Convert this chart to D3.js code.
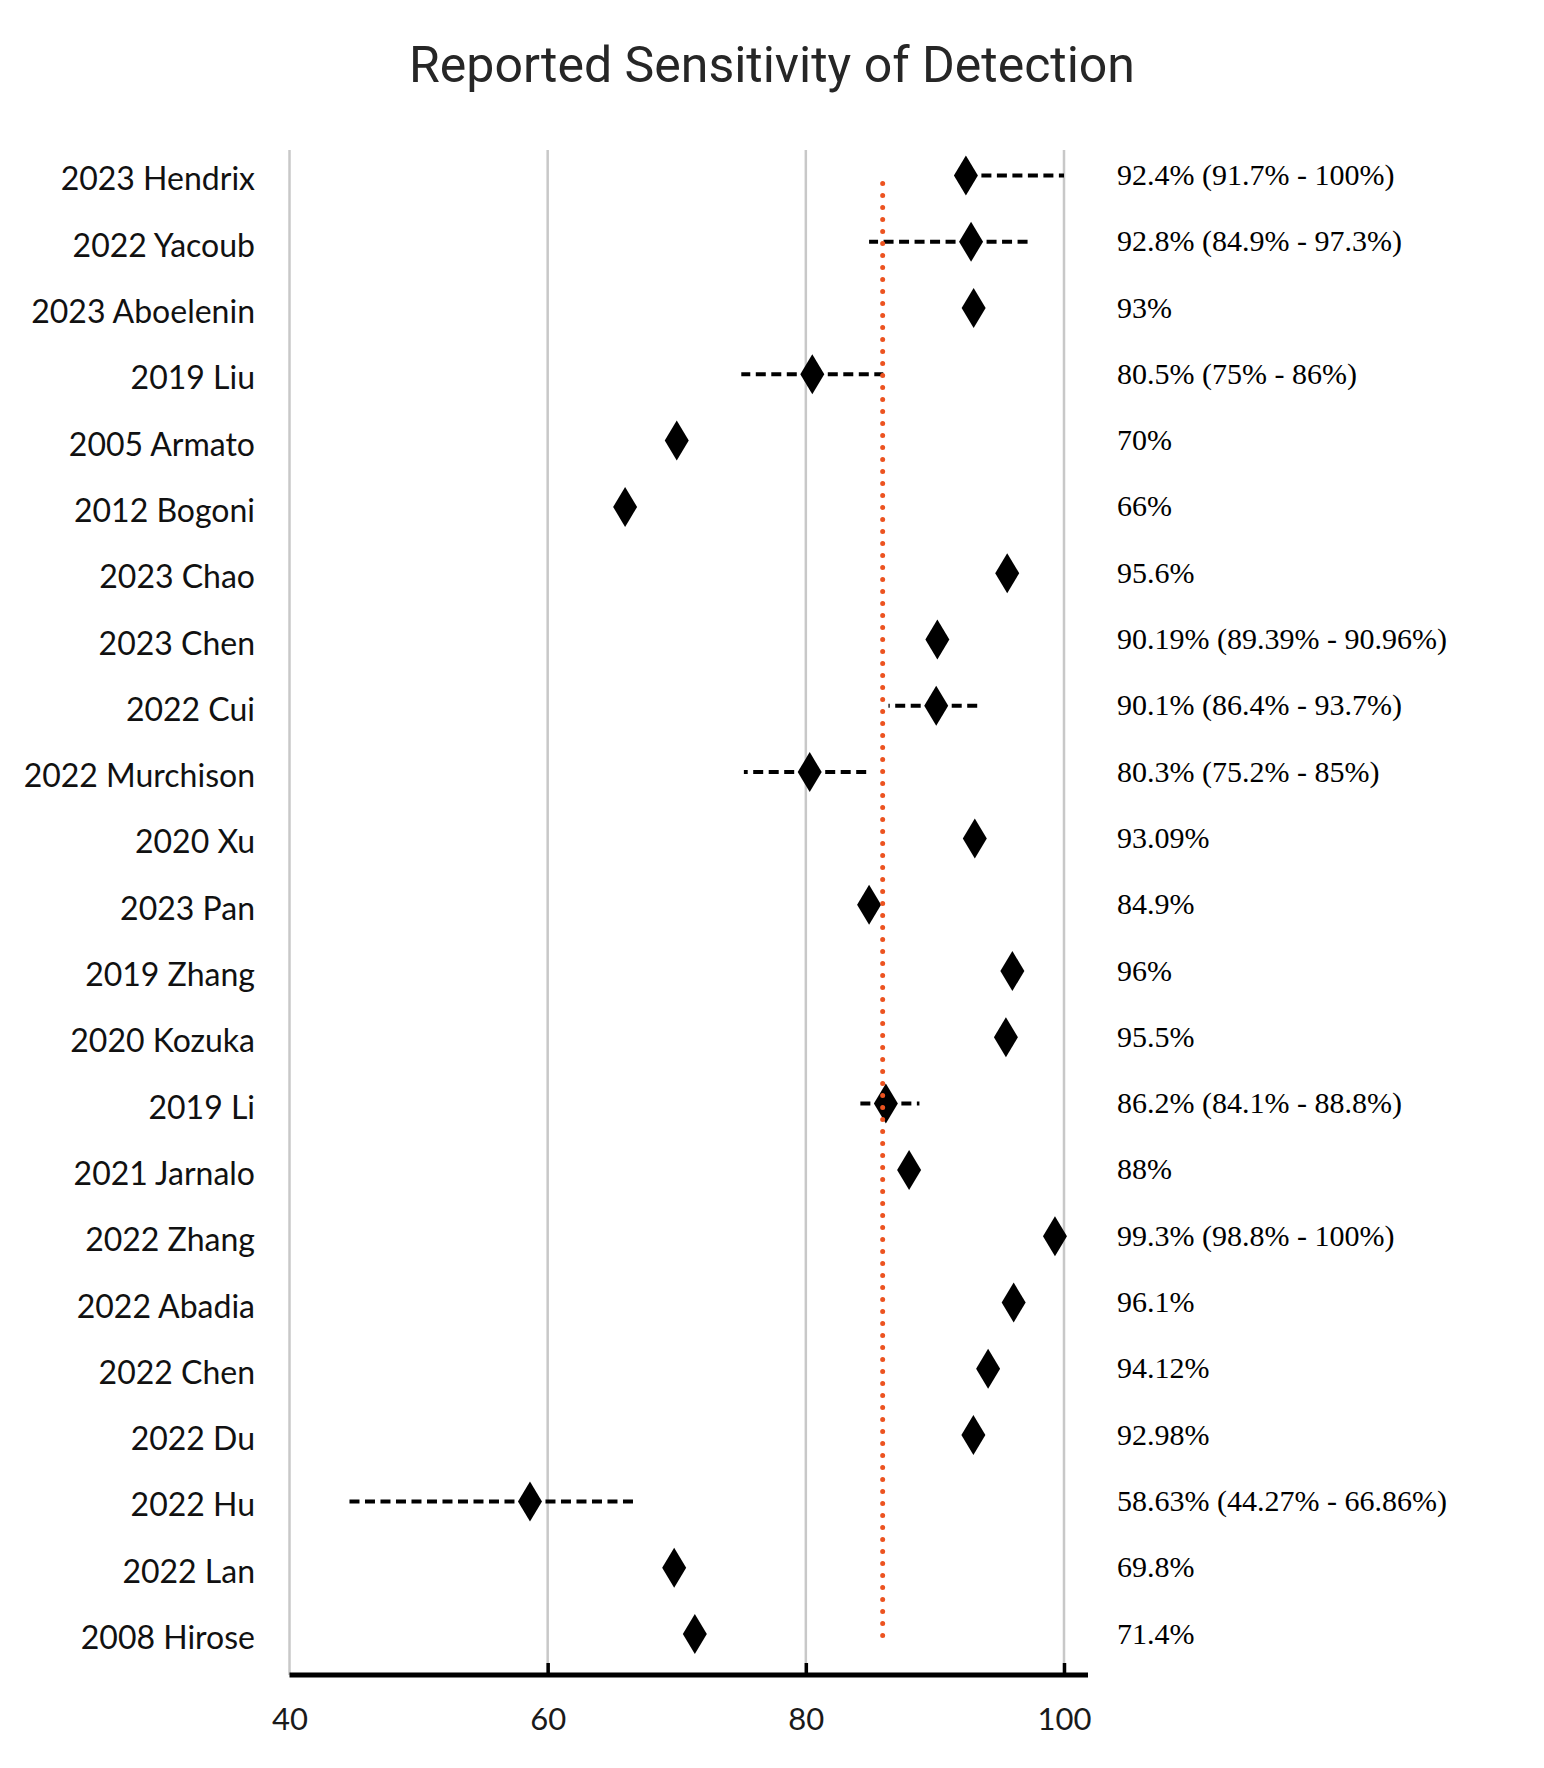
<!DOCTYPE html>
<html>
<head>
<meta charset="utf-8">
<title>Reported Sensitivity of Detection</title>
<script src="https://cdn.jsdelivr.net/npm/d3@7"></script>
<style>
  body { margin: 0; background: #fff; }
</style>
</head>
<body>
<script>
// study labels, top to bottom
const studies = [
  "2023 Hendrix", "2022 Yacoub", "2023 Aboelenin", "2019 Liu", "2005 Armato",
  "2012 Bogoni", "2023 Chao", "2023 Chen", "2022 Cui", "2022 Murchison",
  "2020 Xu", "2023 Pan", "2019 Zhang", "2020 Kozuka", "2019 Li",
  "2021 Jarnalo", "2022 Zhang", "2022 Abadia", "2022 Chen", "2022 Du",
  "2022 Hu", "2022 Lan", "2008 Hirose"
];

// reported sensitivity (%)
const sensitivity = [
  92.4, 92.8, 93, 80.5, 70,
  66, 95.6, 90.19, 90.1, 80.3,
  93.09, 84.9, 96, 95.5, 86.2,
  88, 99.3, 96.1, 94.12, 92.98,
  58.63, 69.8, 71.4
];

// confidence interval bounds (null = not reported)
const ciLow = [
  91.7, 84.9, null, 75, null,
  null, null, 89.39, 86.4, 75.2,
  null, null, null, null, 84.1,
  null, 98.8, null, null, null,
  44.27, null, null
];
const ciHigh = [
  100, 97.3, null, 86, null,
  null, null, 90.96, 93.7, 85,
  null, null, null, null, 88.8,
  null, 100, null, null, null,
  66.86, null, null
];

// text printed to the right of each row
const valueLabels = [
  "92.4% (91.7% - 100%)", "92.8% (84.9% - 97.3%)", "93%", "80.5% (75% - 86%)", "70%",
  "66%", "95.6%", "90.19% (89.39% - 90.96%)", "90.1% (86.4% - 93.7%)", "80.3% (75.2% - 85%)",
  "93.09%", "84.9%", "96%", "95.5%", "86.2% (84.1% - 88.8%)",
  "88%", "99.3% (98.8% - 100%)", "96.1%", "94.12%", "92.98%",
  "58.63% (44.27% - 66.86%)", "69.8%", "71.4%"
];

const xTicks = [40, 60, 80, 100];

const width = 1544;
const height = 1768;
const plotTop = 150;
const plotBottom = 1675;

const rows = studies.map((s, i) => ({
  study: s,
  value: sensitivity[i],
  lo: ciLow[i],
  hi: ciHigh[i],
  label: valueLabels[i]
}));

const meanValue = d3.mean(sensitivity);

const svg = d3.select("body")
  .append("svg")
  .attr("width", width)
  .attr("height", height);

const x = d3.scaleLinear()
  .domain([40, 100])
  .range([289.5, 1064]);

const y = d3.scalePoint()
  .domain(studies)
  .range([175.4, 1634]);

// title
svg.append("text")
  .attr("x", width / 2)
  .attr("y", 82)
  .attr("text-anchor", "middle")
  .style("font-family", "Roboto, sans-serif")
  .style("font-size", "50px")
  .style("fill", "#262626")
  .text("Reported Sensitivity of Detection");

// vertical gridlines
svg.append("g")
  .selectAll("line")
  .data(xTicks)
  .enter()
  .append("line")
  .attr("x1", d => x(d))
  .attr("x2", d => x(d))
  .attr("y1", plotTop)
  .attr("y2", plotBottom)
  .attr("stroke", "#c8c8c8")
  .attr("stroke-width", 2.5);

// x axis
const axis = svg.append("g")
  .attr("transform", "translate(0," + plotBottom + ")")
  .call(d3.axisBottom(x)
    .tickValues(xTicks)
    .tickSizeInner(-12)
    .tickSizeOuter(0)
    .tickFormat(d3.format("d")));

axis.select(".domain").remove();
axis.selectAll(".tick line")
  .attr("stroke", "#000")
  .attr("stroke-width", 3.5)
  .style("display", d => d === 40 ? "none" : null);
axis.selectAll(".tick text")
  .attr("y", 55)
  .attr("dy", null)
  .style("font-family", "Lato, sans-serif")
  .style("font-size", "31px")
  .style("fill", "#1a1a1a");

axis.append("line")
  .attr("x1", x(40))
  .attr("x2", 1088)
  .attr("y1", 0)
  .attr("y2", 0)
  .attr("stroke", "#000")
  .attr("stroke-width", 5);

// study names
svg.append("g")
  .selectAll("text")
  .data(rows)
  .enter()
  .append("text")
  .attr("x", 255)
  .attr("y", d => y(d.study) + 15)
  .attr("text-anchor", "end")
  .style("font-family", "Lato, sans-serif")
  .style("font-size", "32px")
  .style("fill", "#111")
  .text(d => d.study);

// error bars, dashed outward from the point
const withCI = rows.filter(d => d.lo !== null);
const bars = svg.append("g");
["lo", "hi"].forEach(side => {
  bars.selectAll(".bar-" + side)
    .data(withCI)
    .enter()
    .append("line")
    .attr("class", "bar-" + side)
    .attr("x1", d => x(d.value))
    .attr("x2", d => x(d[side]))
    .attr("y1", d => y(d.study))
    .attr("y2", d => y(d.study))
    .attr("stroke", "#000")
    .attr("stroke-width", 4)
    .attr("stroke-dasharray", "10,5.5");
});

// diamonds
svg.append("g")
  .selectAll("path")
  .data(rows)
  .enter()
  .append("path")
  .attr("transform", d => "translate(" + x(d.value) + "," + y(d.study) + ")")
  .attr("d", "M0,-20L12,0L0,20L-12,0Z")
  .attr("fill", "#000");

// mean line
svg.append("line")
  .attr("x1", x(meanValue))
  .attr("x2", x(meanValue))
  .attr("y1", y(studies[0]) + 8)
  .attr("y2", y(studies[studies.length - 1]) + 3)
  .attr("stroke", "#ec5320")
  .attr("stroke-width", 5)
  .attr("stroke-linecap", "round")
  .attr("stroke-dasharray", "0,12");

// value labels
svg.append("g")
  .selectAll("text")
  .data(rows)
  .enter()
  .append("text")
  .attr("x", 1117)
  .attr("y", d => y(d.study) + 9.5)
  .style("font-family", "'Liberation Serif', 'Times New Roman', serif")
  .style("font-size", "30px")
  .style("fill", "#000")
  .text(d => d.label);
</script>
</body>
</html>
